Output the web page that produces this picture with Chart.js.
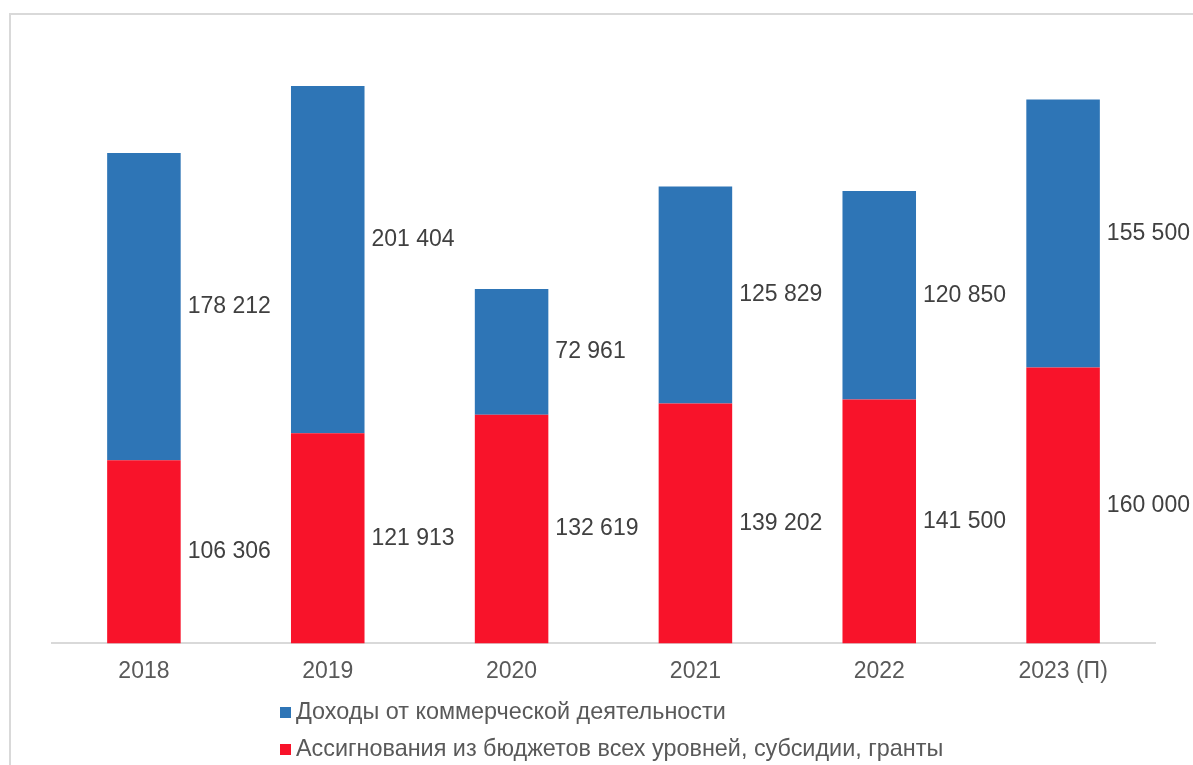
<!DOCTYPE html>
<html>
<head>
<meta charset="utf-8">
<script src="https://cdn.jsdelivr.net/npm/chart.js@4.4.0/dist/chart.umd.min.js"></script>
<style>
    html, body { margin: 0; padding: 0; background: #fff; overflow: hidden; }
    .wrap { position: relative; width: 1193px; height: 765px; }
    .frame { position: absolute; left: 9px; top: 13px; width: 1300px; height: 900px; border: 2px solid #d9d9d9; box-sizing: border-box; }
    canvas { position: absolute; left: 0; top: 0; }
    .legend { position: absolute; left: 280px; top: 697px; font-family: "Liberation Sans", Arial, sans-serif; font-size: 23.4px; color: #595959; }
    .legend .item { height: 37px; line-height: 28px; white-space: nowrap; }
    .legend .box { display: inline-block; width: 11px; height: 11px; margin-right: 5px; vertical-align: 1px; }
</style>
</head>
<body>
<div class="wrap">
    <div class="frame"></div>
    <canvas id="chart" width="1193" height="765"></canvas>
    <div class="legend" id="legend"></div>
</div>
<script>
const years = ['2018', '2019', '2020', '2021', '2022', '2023 (П)']
const budget_values = [106306, 121913, 132619, 139202, 141500, 160000]   // Ассигнования
const commerce_values = [178212, 201404, 72961, 125829, 120850, 155500]  // Доходы
const budget_label = 'Ассигнования из бюджетов всех уровней,  субсидии, гранты'
const commerce_label = 'Доходы от коммерческой деятельности'
const blue = '#2E75B6'
const red = '#F8132A'
const font_family = '"Liberation Sans", Arial, sans-serif'

// writes the value to the right of each bar segment, vertically centered
const segment_labels = {
    id: 'segment_labels',
    afterDatasetsDraw(chart) {
        const ctx = chart.ctx
        ctx.save()
        ctx.font = '23px ' + font_family
        ctx.fillStyle = '#404040'
        ctx.textAlign = 'left'
        ctx.textBaseline = 'middle'
        chart.data.datasets.forEach((dataset, i) => {
            const meta = chart.getDatasetMeta(i)
            meta.data.forEach((bar, j) => {
                const text = dataset.data[j].toLocaleString('ru-RU').replace(/\s/g, ' ')
                const y = (bar.y + bar.base) / 2 - (i === 1 && j === 1 ? 20 : 0) // 2019 label sits a bit higher in the original
                ctx.fillText(text, bar.x + bar.width / 2 + 7, y)
            })
        })
        ctx.restore()
    }
}

new Chart(document.getElementById('chart'), {
    type: 'bar',
    data: {
        labels: years,
        datasets: [
            { label: budget_label, data: budget_values, backgroundColor: red },
            { label: commerce_label, data: commerce_values, backgroundColor: blue }
        ]
    },
    options: {
        responsive: false,
        animation: false,
        layout: { padding: { left: 52, right: 38, top: 40, bottom: 66 } },
        datasets: { bar: { categoryPercentage: 1, barPercentage: 0.4 } },
        plugins: { legend: { display: false }, tooltip: { enabled: false } },
        scales: {
            x: {
                stacked: true,
                grid: { display: false, drawTicks: false },
                border: { display: true, color: '#d9d9d9', width: 2 },
                ticks: { color: '#595959', font: { size: 23, family: font_family }, padding: 14 }
            },
            y: {
                stacked: true,
                display: false,
                min: 0,
                max: 350000
            }
        }
    },
    plugins: [segment_labels]
})

const legend = document.getElementById('legend')
;[[commerce_label, blue], [budget_label, red]].forEach(([text, color]) => {
    const row = document.createElement('div')
    row.className = 'item'
    row.innerHTML = `<span class="box" style="background:${color}"></span>${text}`
    legend.appendChild(row)
})
</script>
</body>
</html>
